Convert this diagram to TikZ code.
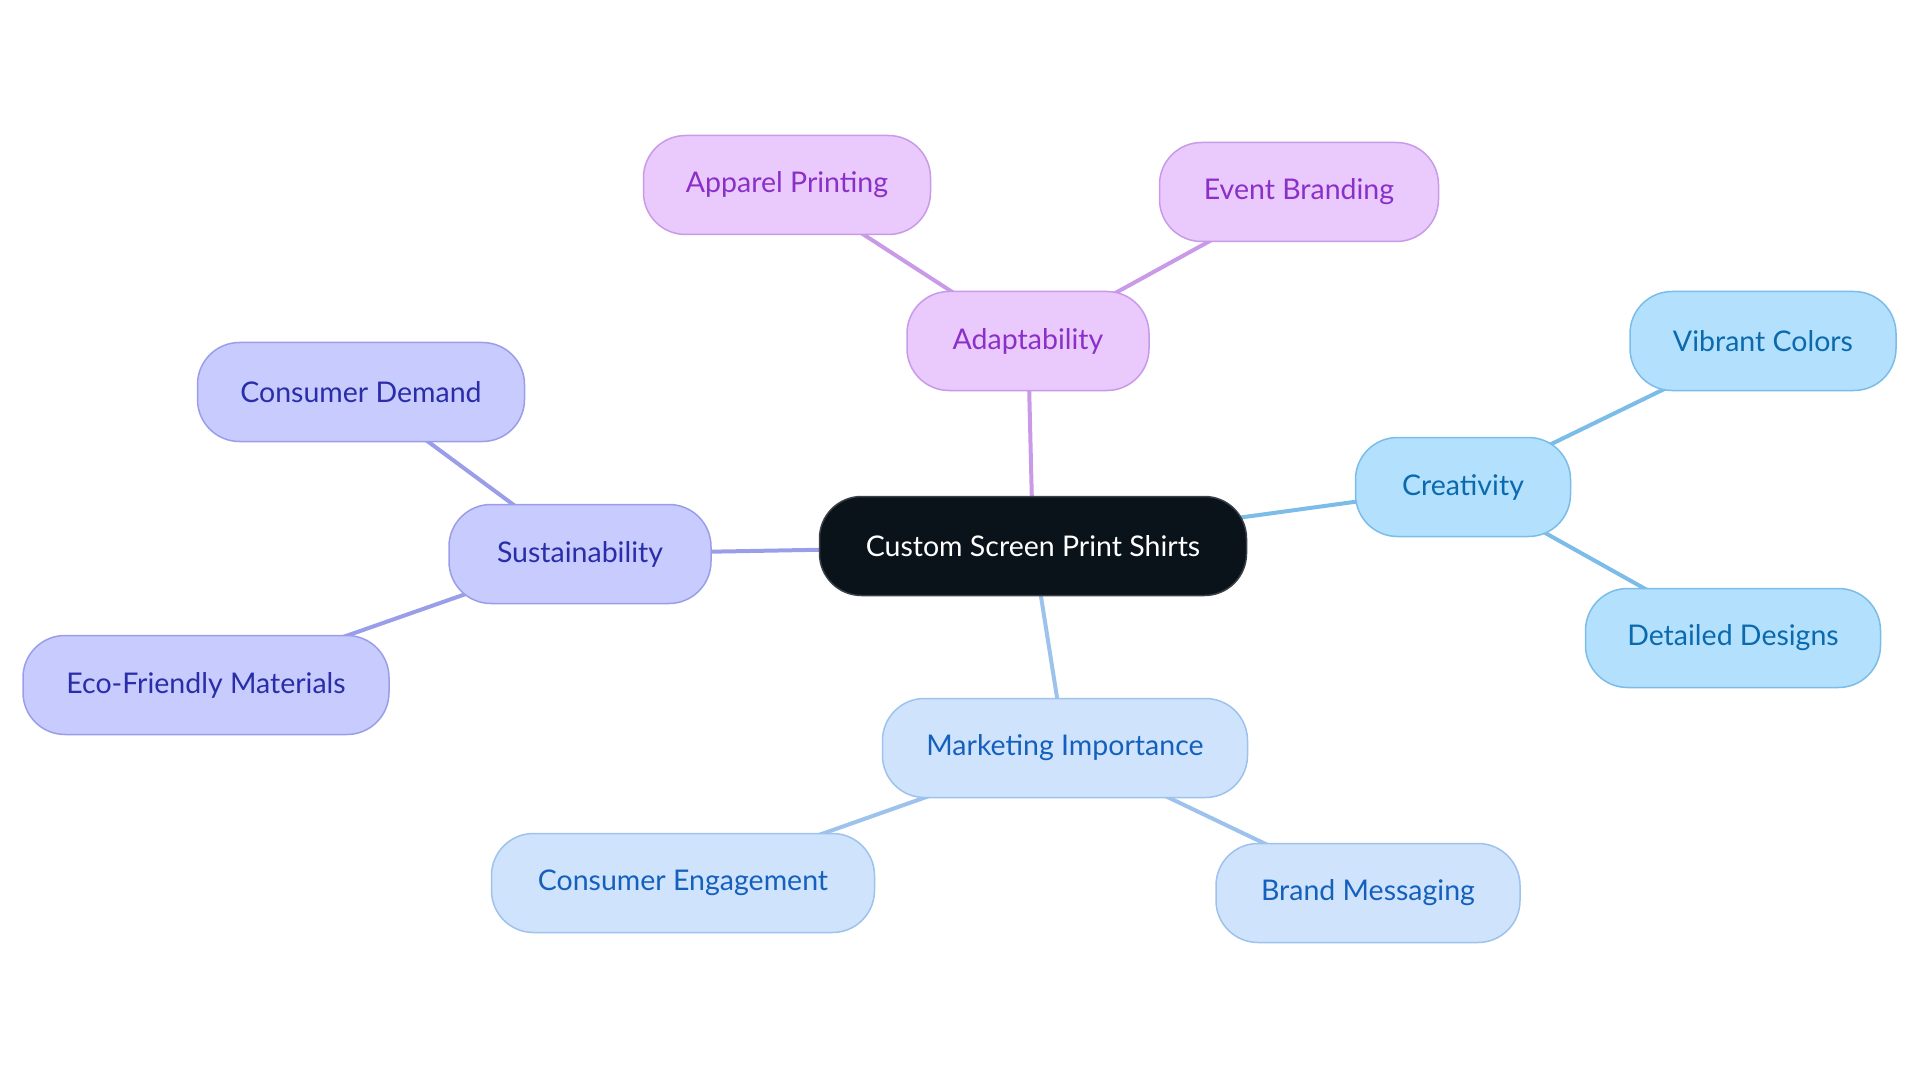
\documentclass[tikz,border=0pt]{standalone}
\usepackage{fontspec}
\setmainfont{Lato}
\usetikzlibrary{backgrounds}
\definecolor{ctrfill}{HTML}{0B131A}
\definecolor{ctrdraw}{HTML}{3A4048}
\definecolor{pufill}{HTML}{EAC9FD}
\definecolor{pudraw}{HTML}{C89AE8}
\definecolor{putext}{HTML}{8A30C8}
\definecolor{cyfill}{HTML}{B3E0FD}
\definecolor{cydraw}{HTML}{7BBCE8}
\definecolor{cytext}{HTML}{0B6AAE}
\definecolor{bufill}{HTML}{CFE4FC}
\definecolor{budraw}{HTML}{9DC2EC}
\definecolor{butext}{HTML}{1560BD}
\definecolor{vifill}{HTML}{C8CBFD}
\definecolor{vidraw}{HTML}{9A9EE8}
\definecolor{vitext}{HTML}{2A2DA8}
\tikzset{
  x=1pt, y=-1pt,
  pill/.style={rectangle, rounded corners=42pt, minimum height=99pt, inner sep=0pt,
    line width=1.5pt, font=\fontsize{28.5}{33}\selectfont},
  ctrnode/.style={pill, fill=ctrfill, draw=ctrdraw, text=white},
  punode/.style={pill, fill=pufill, draw=pudraw, text=putext},
  cynode/.style={pill, fill=cyfill, draw=cydraw, text=cytext},
  bunode/.style={pill, fill=bufill, draw=budraw, text=butext},
  vinode/.style={pill, fill=vifill, draw=vidraw, text=vitext},
  puline/.style={draw=pudraw, line width=4pt},
  cyline/.style={draw=cydraw, line width=4pt},
  buline/.style={draw=budraw, line width=4pt},
  viline/.style={draw=vidraw, line width=4pt},
}
\begin{document}
\begin{tikzpicture}
\useasboundingbox (0,0) rectangle (1920,1083);
\node[ctrnode, minimum width=427pt] (c) at (1033,546) {Custom Screen Print Shirts};
\node[punode, minimum width=242pt] (ad) at (1028,341) {Adaptability};
\node[punode, minimum width=287pt] (ap) at (787,185) {Apparel Printing};
\node[punode, minimum width=279pt] (ev) at (1299,192) {Event Branding};
\node[cynode, minimum width=215pt] (cr) at (1463,487) {Creativity};
\node[cynode, minimum width=266pt] (vc) at (1763,341) {Vibrant Colors};
\node[cynode, minimum width=295pt] (dd) at (1733,638) {Detailed Designs};
\node[bunode, minimum width=365pt] (mi) at (1065,748) {Marketing Importance};
\node[bunode, minimum width=383pt] (ce) at (683,883) {Consumer Engagement};
\node[bunode, minimum width=304pt] (bm) at (1368,893) {Brand Messaging};
\node[vinode, minimum width=262pt] (su) at (580,554) {Sustainability};
\node[vinode, minimum width=327pt] (cd) at (361,392) {Consumer Demand};
\node[vinode, minimum width=366pt] (ef) at (206,685) {Eco-Friendly Materials};
\begin{scope}[on background layer]
\draw[puline] (c.center) -- (ad.center);
\draw[puline] (ad.center) -- (ap.center);
\draw[puline] (ad.center) -- (ev.center);
\draw[cyline] (c.center) -- (cr.center);
\draw[cyline] (cr.center) -- (vc.center);
\draw[cyline] (cr.center) -- (dd.center);
\draw[buline] (c.center) -- (mi.center);
\draw[buline] (mi.center) -- (ce.center);
\draw[buline] (mi.center) -- (bm.center);
\draw[viline] (c.center) -- (su.center);
\draw[viline] (su.center) -- (cd.center);
\draw[viline] (su.center) -- (ef.center);
\end{scope}
\end{tikzpicture}
\end{document}
